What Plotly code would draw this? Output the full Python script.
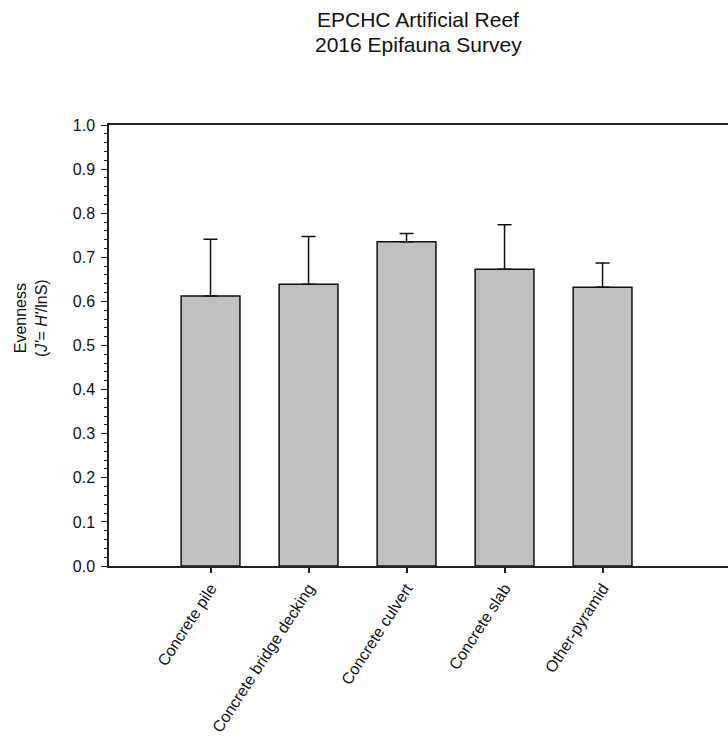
import plotly.graph_objects as go

categories = ["Concrete pile", "Concrete bridge decking", "Concrete culvert", "Concrete slab", "Other-pyramid"]
evenness = [0.612, 0.639, 0.735, 0.673, 0.632]
err_plus = [0.129, 0.108, 0.019, 0.101, 0.055]
y_ticks = [0.0, 0.1, 0.2, 0.3, 0.4, 0.5, 0.6, 0.7, 0.8, 0.9, 1.0]
title_lines = ["EPCHC Artificial Reef", "2016 Epifauna Survey"]

W, H = 728, 749
L, R, T, B = 109, 0, 125, 183
PW, PH = W - L - R, H - T - B

fig = go.Figure()
fig.add_trace(go.Bar(
    x=list(range(len(categories))), y=evenness, width=0.6,
    marker=dict(color="#c0c0c0", line=dict(color="#111111", width=1.5)),
    error_y=dict(type="data", symmetric=False, array=err_plus, arrayminus=[0]*len(err_plus),
                 color="#111111", thickness=1.5, width=7),
    showlegend=False,
))

font = "Liberation Sans, Arial, sans-serif"

def px_x(px):
    return (px - L) / PW

def px_y(py):
    return (H - B - py) / PH

annotations = [
    dict(text=title_lines[0], xref="paper", yref="paper", x=px_x(418), y=px_y(19),
         xanchor="center", yanchor="middle", showarrow=False,
         font=dict(size=21, family=font, color="#111111")),
    dict(text=title_lines[1], xref="paper", yref="paper", x=px_x(418), y=px_y(44),
         xanchor="center", yanchor="middle", showarrow=False,
         font=dict(size=21, family=font, color="#111111")),
    dict(text="Evenness<br>(<i>J'</i>= <i>H'</i>/lnS)", textangle=-90,
         xref="paper", yref="paper", x=px_x(31), y=px_y(318),
         xanchor="center", yanchor="middle", showarrow=False,
         font=dict(size=16, family=font, color="#111111")),
]

fig.update_layout(
    width=W, height=H,
    margin=dict(l=L, r=R, t=T, b=B, pad=0),
    paper_bgcolor="white", plot_bgcolor="white",
    font=dict(family=font, color="#111111"),
    xaxis=dict(range=[-1.036, 5.28], tickmode="array", tickvals=list(range(len(categories))),
               ticktext=categories, tickangle=-57, tickfont=dict(size=16),
               showline=True, linecolor="#222222", linewidth=1.5, mirror=True,
               ticks="outside", ticklen=5, tickwidth=1.5, tickcolor="#222222",
               showgrid=False, zeroline=False),
    yaxis=dict(range=[0, 1.0], tickmode="array", tickvals=y_ticks,
               ticktext=[f"{v:.1f}" for v in y_ticks], tickfont=dict(size=16),
               ticklabelstandoff=3,
               showline=True, linecolor="#222222", linewidth=1.5, mirror=False,
               ticks="outside", ticklen=6, tickwidth=1.2, tickcolor="#222222",
               minor=dict(dtick=0.02, ticks="outside", ticklen=3, tickwidth=1, tickcolor="#222222", showgrid=False),
               showgrid=False, zeroline=False),
    annotations=annotations,
)

fig.write_html("out.html", config={"displayModeBar": False},
               post_script="document.body.style.margin='0';document.body.style.overflow='hidden';")
